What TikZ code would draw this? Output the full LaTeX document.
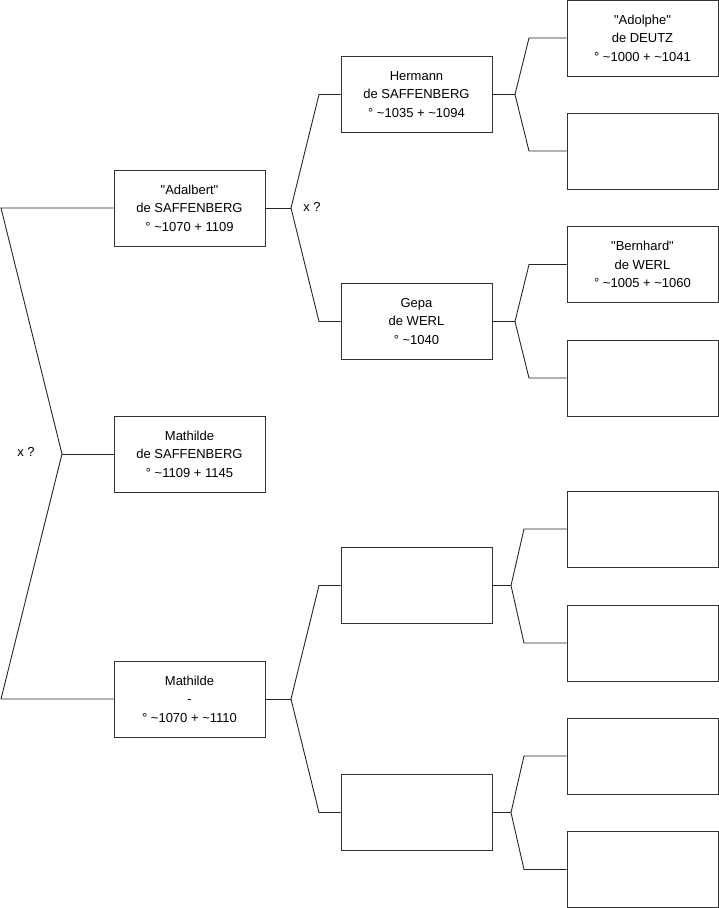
\documentclass[tikz,border=0pt]{standalone}
\usepackage{fontspec}
\setmainfont{Liberation Sans}[Ligatures=TeXOff]
\newcommand{\sq}{"}
\begin{document}
\begin{tikzpicture}[x=1pt,y=-1pt,
  person/.style={draw=black!80, line width=0.9pt, fill=white, rectangle, minimum width=151pt, minimum height=76pt, inner sep=0pt, align=center, font=\fontsize{13}{18.5}\selectfont},
  link/.style={draw=black!85, line width=0.9pt},
  lbl/.style={font=\fontsize{13}{15}\selectfont, inner sep=0pt}]
\useasboundingbox (0,0) rectangle (719,908);
% column 1
\node[person] (adalbert) at (189.5,208) {\sq Adalbert\sq\\de SAFFENBERG\\° \textasciitilde1070 + 1109};
\node[person] (mathA) at (189.5,454) {Mathilde\\de SAFFENBERG\\° \textasciitilde1109 + 1145};
\node[person] (mathB) at (189.5,699) {Mathilde\\-\\° \textasciitilde1070 + \textasciitilde1110};
% column 2
\node[person] (hermann) at (416.5,94.5) {Hermann\\de SAFFENBERG\\° \textasciitilde1035 + \textasciitilde1094};
\node[person] (gepa) at (416.5,321.5) {Gepa\\de WERL\\° \textasciitilde1040};
\node[person] (eA) at (416.5,585.5) {};
\node[person] (eB) at (416.5,812.5) {};
% column 3
\node[person] (adolphe) at (642.5,38) {\sq Adolphe\sq\\de DEUTZ\\° \textasciitilde1000 + \textasciitilde1041};
\node[person] (e1) at (642.5,151) {};
\node[person] (bernhard) at (642.5,264.5) {\sq Bernhard\sq\\de WERL\\° \textasciitilde1005 + \textasciitilde1060};
\node[person] (e2) at (642.5,378) {};
\node[person] (e3) at (642.5,529) {};
\node[person] (e4) at (642.5,643) {};
\node[person] (e5) at (642.5,756) {};
\node[person] (e6) at (642.5,869.5) {};
% root connector
\coordinate (r1) at (1,208);
\coordinate (j0) at (62,454);
\coordinate (r2) at (1,699);
\draw[link] (adalbert.west) -- (r1) -- (j0) -- (r2) -- (mathB.west);
\draw[link] (j0) -- (mathA.west);
\node[lbl] (x1) at (26,452) {x ?};
% adalbert parents
\coordinate (ja) at (291,208);
\coordinate (ja1) at (319,94.5);
\coordinate (ja2) at (319,321.5);
\draw[link] (adalbert.east) -- (ja);
\draw[link] (ja) -- (ja1) -- (hermann.west);
\draw[link] (ja) -- (ja2) -- (gepa.west);
\node[lbl] (x2) at (312,207) {x ?};
% mathilde - parents
\coordinate (jb) at (291,699);
\coordinate (jb1) at (319,585.5);
\coordinate (jb2) at (319,812.5);
\draw[link] (mathB.east) -- (jb);
\draw[link] (jb) -- (jb1) -- (eA.west);
\draw[link] (jb) -- (jb2) -- (eB.west);
% hermann parents
\coordinate (jh) at (515,94.5);
\coordinate (jh1) at (529,38);
\coordinate (jh2) at (529,151);
\draw[link] (hermann.east) -- (jh);
\draw[link] (jh) -- (jh1) -- (adolphe.west);
\draw[link] (jh) -- (jh2) -- (e1.west);
% gepa parents
\coordinate (jg) at (515,321.5);
\coordinate (jg1) at (529,264.5);
\coordinate (jg2) at (529,378);
\draw[link] (gepa.east) -- (jg);
\draw[link] (jg) -- (jg1) -- (bernhard.west);
\draw[link] (jg) -- (jg2) -- (e2.west);
% eA parents
\coordinate (jea) at (511,585.5);
\coordinate (jea1) at (524,529);
\coordinate (jea2) at (524,643);
\draw[link] (eA.east) -- (jea);
\draw[link] (jea) -- (jea1) -- (e3.west);
\draw[link] (jea) -- (jea2) -- (e4.west);
% eB parents
\coordinate (jeb) at (511,812.5);
\coordinate (jeb1) at (524,756);
\coordinate (jeb2) at (524,869.5);
\draw[link] (eB.east) -- (jeb);
\draw[link] (jeb) -- (jeb1) -- (e5.west);
\draw[link] (jeb) -- (jeb2) -- (e6.west);
\end{tikzpicture}
\end{document}
